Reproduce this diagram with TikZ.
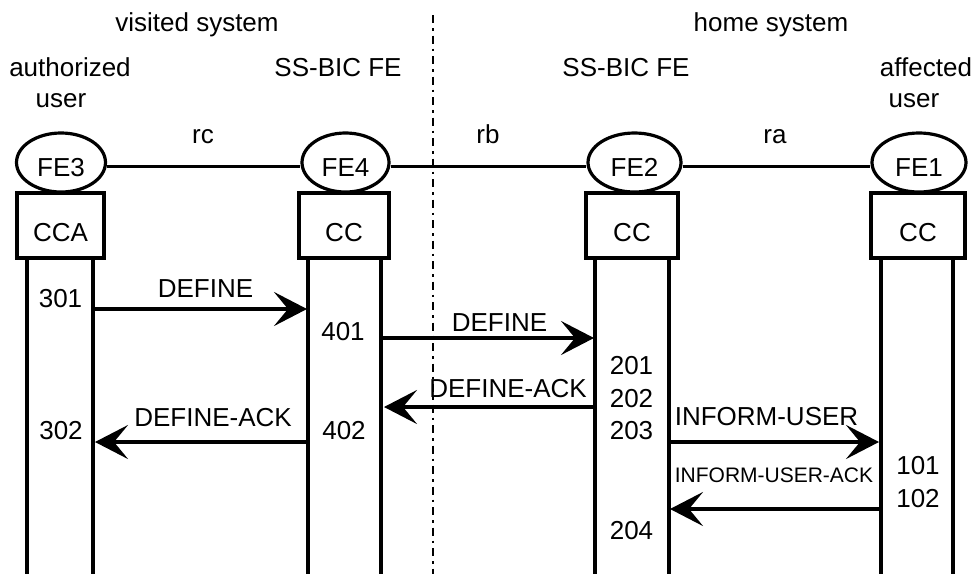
\documentclass[tikz,border=0pt]{standalone}
\usepackage{fontspec}
\setmainfont{Liberation Sans}
\usetikzlibrary{arrows.meta,shapes.geometric}
\begin{document}
\begin{tikzpicture}[x=1pt,y=-1pt,
  txt/.style={font=\fontsize{26}{31}\selectfont, inner sep=0pt, anchor=base},
  smalltxt/.style={font=\fontsize{21}{25}\selectfont, inner sep=0pt, anchor=base},
  fe/.style={ellipse, draw, line width=3.2pt, inner sep=0pt, minimum height=59pt,
    text height=27pt, text depth=0pt, font=\fontsize{26}{31}\selectfont},
  ccbox/.style={rectangle, draw, line width=3.5pt, inner sep=0pt, minimum height=65pt,
    text height=31pt, text depth=0pt, font=\fontsize{26}{31}\selectfont},
  life/.style={line width=3.3pt},
  link/.style={line width=3.3pt},
  msg/.style={line width=3.3pt, -{Stealth[length=33pt,width=34pt,inset=14pt]}},
  border/.style={line width=2.5pt, dash pattern=on 8pt off 5pt on 2.5pt off 5pt}]
\useasboundingbox (0,0) rectangle (979,574);

% headings
\node[txt] (vis) at (197,31) {visited system};
\node[txt] (home) at (771,31) {home system};
\node[txt] (auth) at (70,76) {authorized};
\node[txt] (authu) at (61,107) {user};
\node[txt] (ssb1) at (338,76) {SS-BIC FE};
\node[txt] (ssb2) at (626,76) {SS-BIC FE};
\node[txt] (aff) at (926,76) {affected};
\node[txt] (affu) at (914,107) {user};
\node[txt] (rc) at (203,143) {rc};
\node[txt] (rb) at (488,143) {rb};
\node[txt] (ra) at (775,143) {ra};

% boundary
\coordinate (bt) at (433,15);
\coordinate (bb) at (433,574);
\draw[border] (bt) -- (bb);

% FE ellipses
\node[fe, minimum width=89pt] (fe3) at (61,162.5) {FE3};
\node[fe, minimum width=87pt] (fe4) at (345.5,162.5) {FE4};
\node[fe, minimum width=93pt] (fe2) at (634.5,162.5) {FE2};
\node[fe, minimum width=94pt] (fe1) at (919,162.5) {FE1};
\draw[link] ([yshift=-4pt]fe3.east) -- ([yshift=-4pt]fe4.west);
\draw[link] ([yshift=-4pt]fe4.east) -- ([yshift=-4pt]fe2.west);
\draw[link] ([yshift=-4pt]fe2.east) -- ([yshift=-4pt]fe1.west);

% boxes
\node[ccbox, minimum width=87pt] (cca) at (60.5,225.5) {CCA};
\node[ccbox, minimum width=90pt] (cc4) at (344,225.5) {CC};
\node[ccbox, minimum width=92pt] (cc2) at (632,225.5) {CC};
\node[ccbox, minimum width=94pt] (cc1) at (918,225.5) {CC};

% lifelines
\foreach \x in {27,93,308,381,595,669,881,953}
  \draw[life] (\x,258) -- (\x,574);

% message end points
\coordinate (p301) at (93,309);  \coordinate (q301) at (307,309);
\coordinate (p401) at (381,338); \coordinate (q401) at (594,338);
\coordinate (p202) at (595,407); \coordinate (q202) at (384,407);
\coordinate (p402) at (308,442); \coordinate (q402) at (95,442);
\coordinate (p203) at (669,442); \coordinate (q203) at (879,442);
\coordinate (p102) at (881,509); \coordinate (q102) at (670,509);

\draw[msg] (p301) -- (q301);
\draw[msg] (p401) -- (q401);
\draw[msg] (p202) -- (q202);
\draw[msg] (p402) -- (q402);
\draw[msg] (p203) -- (q203);
\draw[msg] (p102) -- (q102);

% message labels
\node[txt] (l1) at (205.5,297) {DEFINE};
\node[txt] (l2) at (499.5,331) {DEFINE};
\node[txt] (l3) at (508,397) {DEFINE-ACK};
\node[txt] (l4) at (213,426) {DEFINE-ACK};
\node[txt] (l5) at (766.5,425) {INFORM-USER};
\node[smalltxt] (l6) at (774,482) {INFORM-USER-ACK};

% step numbers
\node[txt] (n301) at (60.5,307) {301};
\node[txt] (n302) at (61,439) {302};
\node[txt] (n401) at (343,340) {401};
\node[txt] (n402) at (344,439) {402};
\node[txt] (n201) at (631.5,374) {201};
\node[txt] (n202) at (631.5,407) {202};
\node[txt] (n203) at (631.5,439) {203};
\node[txt] (n204) at (631.5,539) {204};
\node[txt] (n101) at (918,474) {101};
\node[txt] (n102) at (918,507) {102};
\end{tikzpicture}
\end{document}
